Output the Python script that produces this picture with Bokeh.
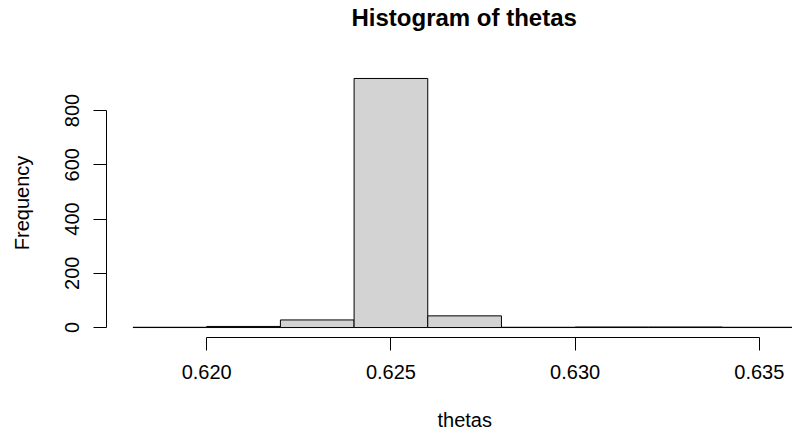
from bokeh.plotting import figure
from bokeh.models import FixedTicker, PrintfTickFormatter, Title
from bokeh.embed import file_html
from bokeh.resources import INLINE

# Histogram data
bin_edges = [0.618, 0.620, 0.622, 0.624, 0.626, 0.628, 0.630, 0.632, 0.634, 0.636]
counts = [1, 4, 28, 918, 43, 1, 2, 2, 1]
x_ticks = [0.620, 0.625, 0.630, 0.635]
y_ticks = [0, 200, 400, 600, 800]
title_text = "Histogram of thetas"
x_label = "thetas"
y_label = "Frequency"

FONT = "Liberation Sans"

ymax = max(counts)
ypad = 0.04 * ymax
xpad = 0.04 * (bin_edges[-1] - bin_edges[0])

p = figure(width=792, height=434, output_backend="svg", toolbar_location=None,
           x_range=(bin_edges[0] - xpad, 0.6359), y_range=(-ypad, ymax + ypad),
           min_border_left=106, min_border_right=0, min_border_top=68, min_border_bottom=97)
p.outline_line_color = None
p.xgrid.visible = False
p.ygrid.visible = False
p.background_fill_color = "white"
p.border_fill_color = "white"

p.quad(left=bin_edges[:-1], right=bin_edges[1:], bottom=0, top=counts,
       fill_color="#D3D3D3", line_color="black", line_width=1)

for ax in (p.xaxis[0], p.yaxis[0]):
    ax.major_tick_out = 13
    ax.major_tick_in = 0
    ax.minor_tick_out = 0
    ax.minor_tick_in = 0
    ax.axis_line_color = "black"
    ax.major_tick_line_color = "black"
    ax.major_label_text_font = FONT
    ax.major_label_text_font_size = "20px"
    ax.major_label_text_color = "black"
    ax.major_label_standoff = 14
    ax.axis_label_text_font = FONT
    ax.axis_label_text_font_size = "20px"
    ax.axis_label_text_font_style = "normal"
    ax.axis_label_text_color = "black"

p.xaxis.ticker = FixedTicker(ticks=x_ticks)
p.xaxis.formatter = PrintfTickFormatter(format="%.3f")
p.xaxis.bounds = (x_ticks[0], x_ticks[-1])

p.yaxis.ticker = FixedTicker(ticks=y_ticks)
p.yaxis.bounds = (y_ticks[0], y_ticks[-1])
p.yaxis.major_label_orientation = "vertical"
p.yaxis.axis_label = y_label
p.yaxis.axis_label_standoff = 30

# spacer panels (empty text) then the titles, centred on R's full plot region
p.add_layout(Title(text=" ", text_font_size="1px", standoff=35), "above")
p.add_layout(Title(text=title_text, align="left", offset=245, standoff=0,
                   text_font=FONT, text_font_size="24px", text_font_style="bold",
                   text_color="black"), "above")
p.add_layout(Title(text=" ", text_font_size="1px", standoff=22), "below")
p.add_layout(Title(text=x_label, align="left", offset=331, standoff=0,
                   text_font=FONT, text_font_size="20px", text_font_style="normal",
                   text_color="black"), "below")

open("out.html", "w").write(file_html(p, INLINE))
